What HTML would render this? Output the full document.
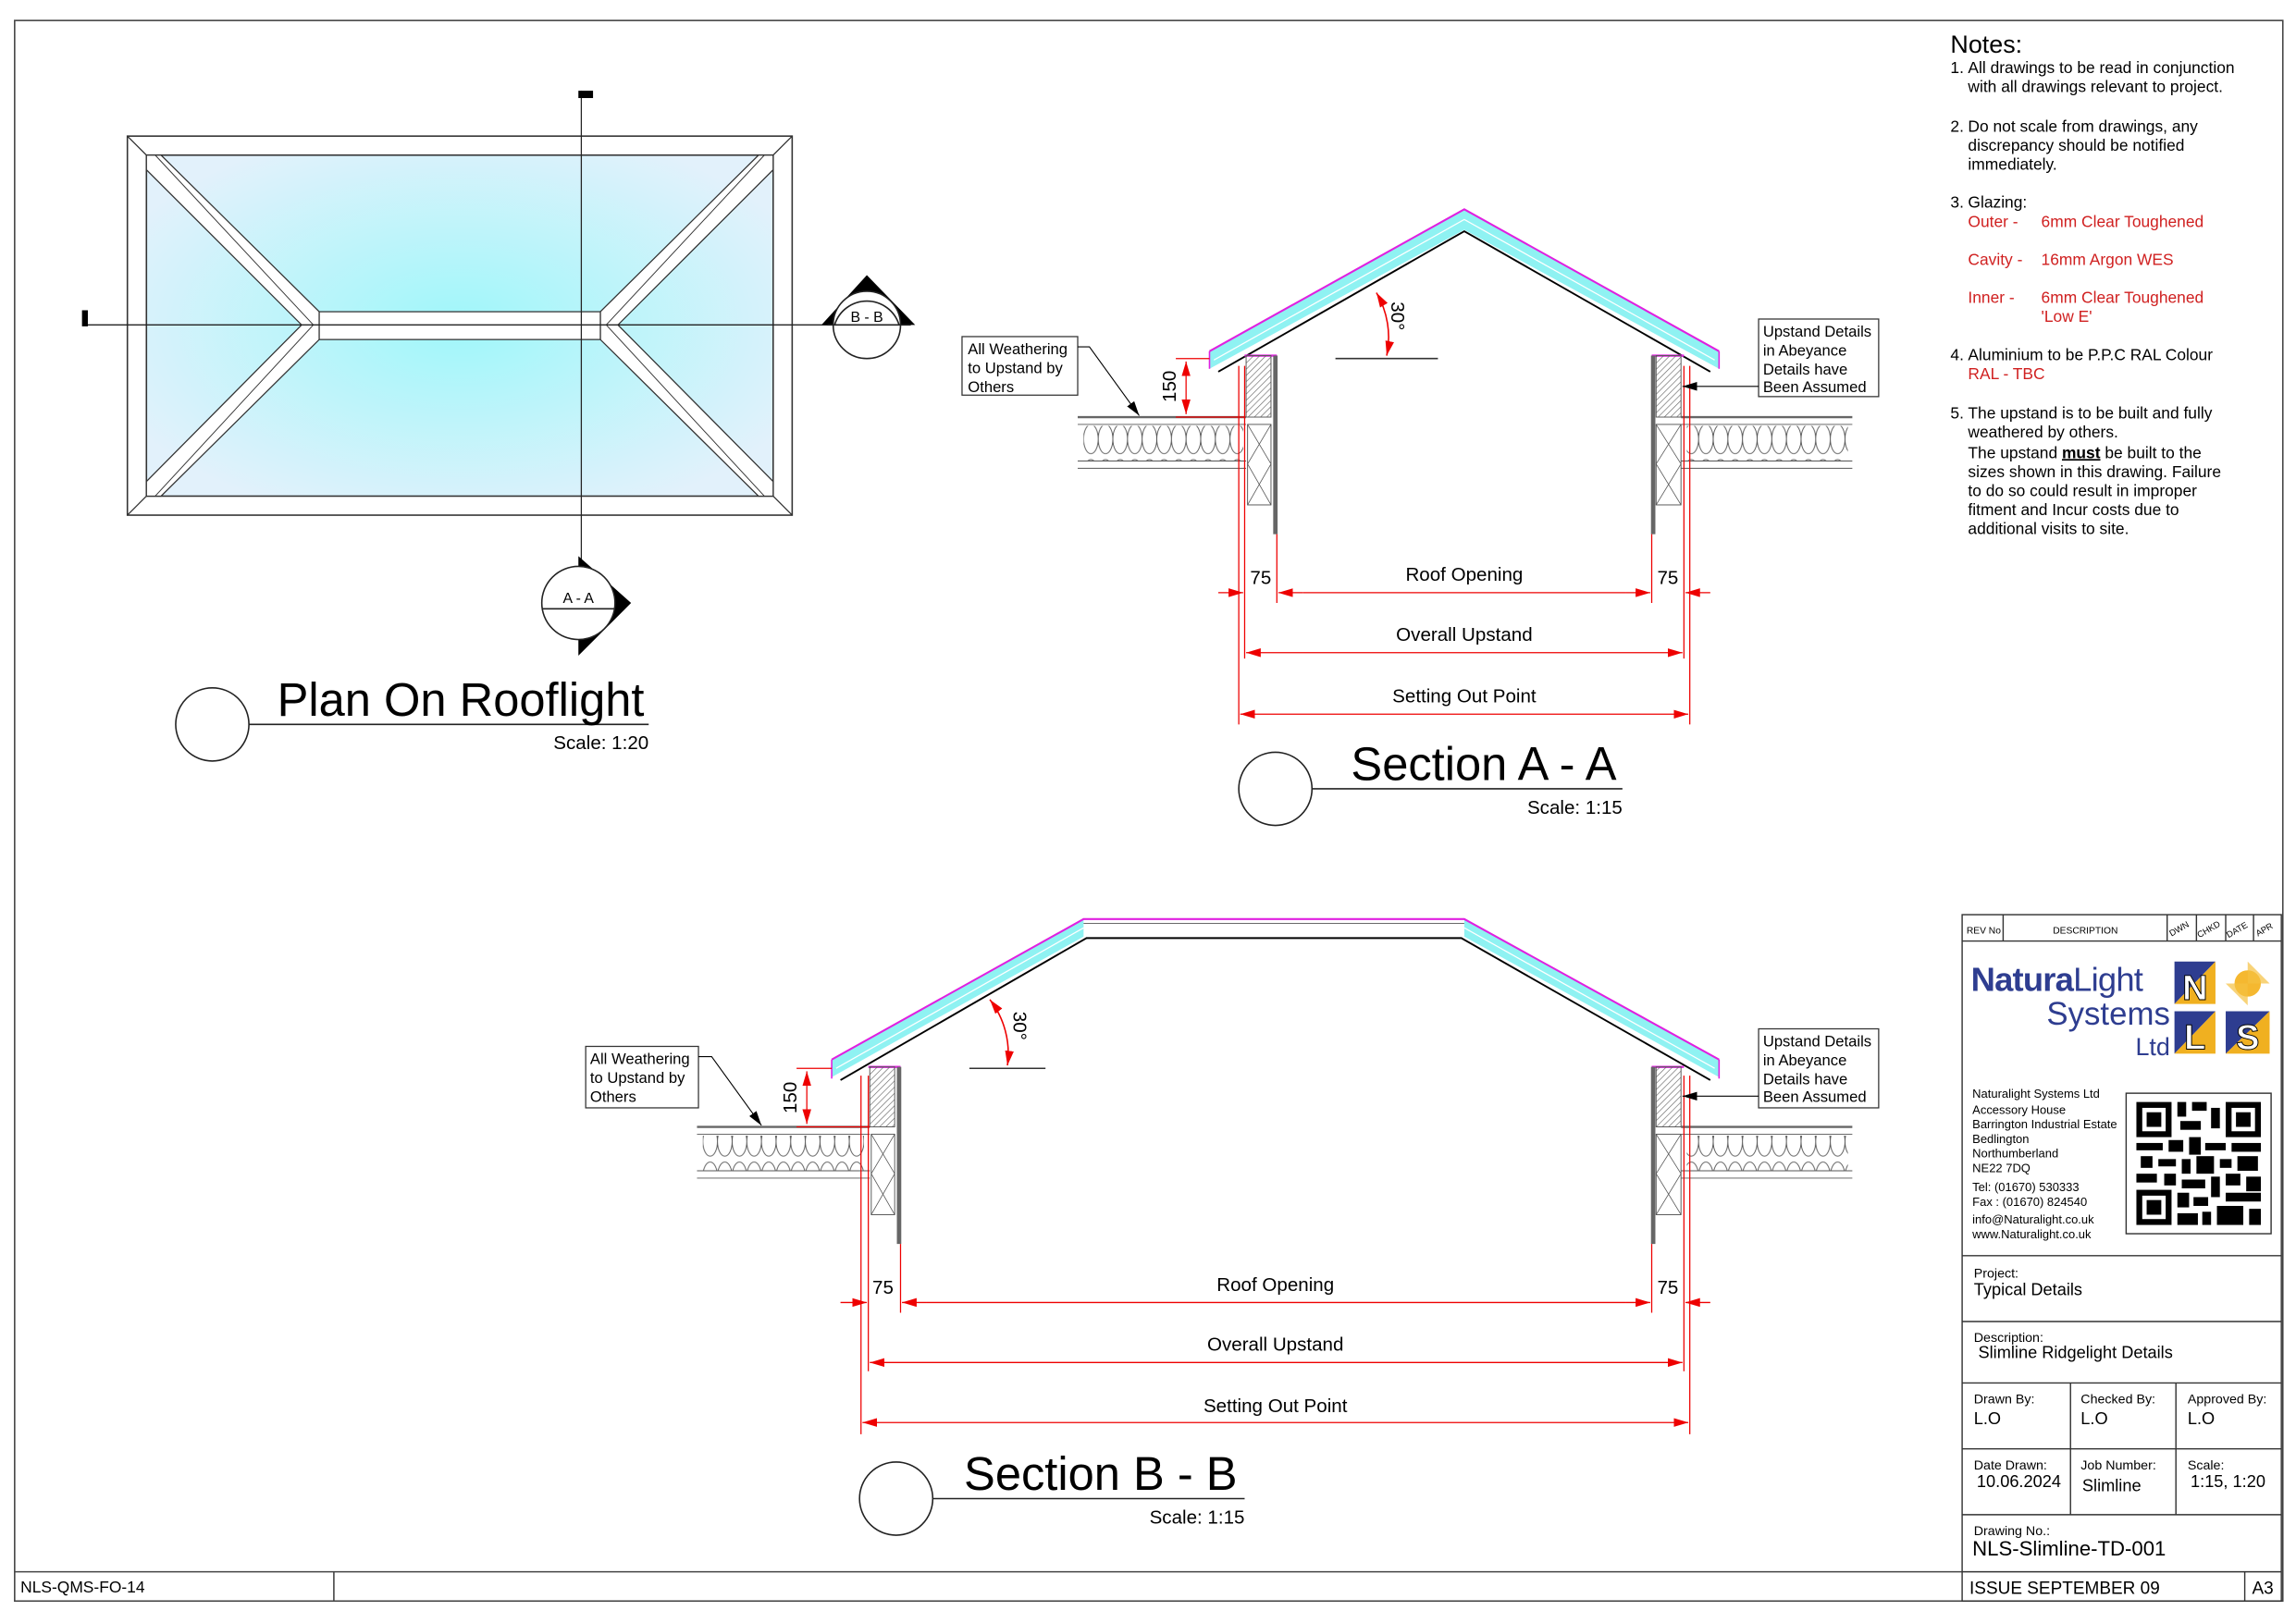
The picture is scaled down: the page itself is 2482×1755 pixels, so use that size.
<!DOCTYPE html>
<html><head><meta charset="utf-8"><style>
html,body{margin:0;padding:0;background:#fff;}
svg{display:block;}
text{font-family:"Liberation Sans",sans-serif;}
</style></head><body>
<svg width="2482" height="1755" viewBox="0 0 1568 1109" preserveAspectRatio="none" xmlns="http://www.w3.org/2000/svg">
<defs>
<radialGradient id="gl" cx="0.5" cy="0.5" r="0.6">
<stop offset="0" stop-color="#9ff7fa"/><stop offset="1" stop-color="#e2f1fb"/></radialGradient>
<pattern id="ins" width="10" height="24" patternUnits="userSpaceOnUse">
<ellipse cx="5" cy="12" rx="5" ry="10" fill="none" stroke="#555" stroke-width="0.6"/></pattern>
<pattern id="hat" width="3" height="3" patternUnits="userSpaceOnUse" patternTransform="rotate(45)">
<line x1="0" y1="0" x2="0" y2="3" stroke="#666" stroke-width="0.8"/></pattern>
<marker id="ar" markerWidth="10" markerHeight="6" refX="10" refY="3" orient="auto-start-reverse" markerUnits="userSpaceOnUse">
<path d="M0,0 L10,3 L0,6z" fill="#e00"/></marker>
<marker id="ab" markerWidth="10" markerHeight="6" refX="10" refY="3" orient="auto" markerUnits="userSpaceOnUse">
<path d="M0,0 L10,3 L0,6z" fill="#000"/></marker>
</defs>

<rect x="10" y="14" width="1549" height="1080" fill="none" stroke="#444" stroke-width="1"/>
<line x1="10" y1="1074" x2="1340" y2="1074" stroke="#444"/>
<line x1="228" y1="1074" x2="228" y2="1094" stroke="#444"/>
<text x="14" y="1088" font-size="11">NLS-QMS-FO-14</text>

<!-- Plan -->
<rect x="87" y="93" width="454" height="259" fill="#fff" stroke="#333"/>
<rect x="100" y="106" width="428" height="233" fill="url(#gl)" stroke="#333"/>
<g stroke="#333" stroke-width="0.8" fill="none">
<line x1="87" y1="93" x2="100" y2="106"/><line x1="541" y1="93" x2="528" y2="106"/>
<line x1="87" y1="352" x2="100" y2="339"/><line x1="541" y1="352" x2="528" y2="339"/>
</g>
<g fill="#fff" stroke="#333" stroke-width="0.8">
<polygon points="100,106 110,106 218,213 218,232 110,339 100,339 100,329 206,222 100,116"/>
<polygon points="528,106 518,106 410,213 410,232 518,339 528,339 528,329 422,222 528,116"/>
<rect x="218" y="213" width="192" height="19"/>
</g>
<g stroke="#333" stroke-width="0.6" fill="none">
<line x1="106" y1="106" x2="214" y2="222"/><line x1="106" y1="339" x2="214" y2="222"/>
<line x1="522" y1="106" x2="414" y2="222"/><line x1="522" y1="339" x2="414" y2="222"/>
</g>
<line x1="57" y1="222" x2="622" y2="222" stroke="#222" stroke-width="0.8"/>
<rect x="56" y="212" width="4" height="11" fill="#000"/>
<line x1="397" y1="62" x2="397" y2="440" stroke="#222" stroke-width="0.8"/>
<rect x="395" y="62" width="10" height="5" fill="#000"/>
<polygon points="592,188 561,222 625,222" fill="#000"/>
<circle cx="592" cy="222" r="23" fill="#fff" stroke="#222"/>
<path d="M570,222 A23,23 0 0 1 614,222" fill="#fff" stroke="#222"/>
<line x1="565" y1="222" x2="622" y2="222" stroke="#222"/>
<text x="592" y="220" font-size="10" text-anchor="middle">B - B</text>
<polygon points="395,380 395,448 431,412" fill="#000"/>
<circle cx="395" cy="412" r="25" fill="#fff" stroke="#222"/>
<line x1="370" y1="416" x2="420" y2="416" stroke="#222"/>
<text x="395" y="412" font-size="10" text-anchor="middle">A - A</text>

<circle cx="145" cy="495" r="25" fill="none" stroke="#222"/>
<line x1="170" y1="495" x2="443" y2="495" stroke="#222"/>
<text x="440" y="489" font-size="32" text-anchor="end">Plan On Rooflight</text>
<text x="443" y="512" font-size="13" text-anchor="end">Scale: 1:20</text>

<!-- Section A -->
<polygon points="826,240 1000,143 1174,240 1174,252 1000,157 826,252" fill="#8ff2f2"/>
<polyline points="826,240 1000,143 1174,240" fill="none" stroke="#e020e0" stroke-width="1.3"/>
<polyline points="832,254 1000,158 1168,254" fill="none" stroke="#000" stroke-width="1.2"/>
<polyline points="829,246 1000,150 1171,246" fill="none" stroke="#fff" stroke-width="0.8"/>
<line x1="826" y1="240" x2="826" y2="252" stroke="#e020e0"/><line x1="1174" y1="240" x2="1174" y2="252" stroke="#e020e0"/>
<line x1="850" y1="243" x2="872" y2="243" stroke="#e020e0" stroke-width="1.5"/>
<line x1="1128" y1="243" x2="1150" y2="243" stroke="#e020e0" stroke-width="1.5"/>
<rect x="851" y="243" width="17" height="42" fill="url(#hat)" stroke="#555" stroke-width="0.6"/>
<rect x="852" y="290" width="16" height="55" fill="none" stroke="#555" stroke-width="0.6"/>
<path d="M852,290 L868,317 M868,290 L852,317 M852,317 L868,345 M868,317 L852,345" stroke="#555" stroke-width="0.5"/>
<line x1="871" y1="243" x2="871" y2="365" stroke="#666" stroke-width="3"/>
<line x1="736" y1="285" x2="851" y2="285" stroke="#666" stroke-width="1.5"/>
<line x1="736" y1="290" x2="851" y2="290" stroke="#555" stroke-width="0.6"/>
<rect x="740" y="291" width="109" height="24" fill="url(#ins)"/>
<line x1="736" y1="315" x2="851" y2="315" stroke="#555" stroke-width="0.6"/>
<line x1="736" y1="320" x2="851" y2="320" stroke="#555" stroke-width="0.6"/>
<rect x="1131" y="243" width="17" height="42" fill="url(#hat)" stroke="#555" stroke-width="0.6"/>
<rect x="1131" y="290" width="17" height="55" fill="none" stroke="#555" stroke-width="0.6"/>
<path d="M1131,290 L1148,317 M1148,290 L1131,317 M1131,317 L1148,345 M1148,317 L1131,345" stroke="#555" stroke-width="0.5"/>
<line x1="1129" y1="243" x2="1129" y2="365" stroke="#666" stroke-width="3"/>
<line x1="1148" y1="285" x2="1265" y2="285" stroke="#666" stroke-width="1.5"/>
<line x1="1148" y1="290" x2="1265" y2="290" stroke="#555" stroke-width="0.6"/>
<rect x="1152" y="291" width="110" height="24" fill="url(#ins)"/>
<line x1="1148" y1="315" x2="1265" y2="315" stroke="#555" stroke-width="0.6"/>
<line x1="1148" y1="320" x2="1265" y2="320" stroke="#555" stroke-width="0.6"/>
<line x1="912" y1="245" x2="982" y2="245" stroke="#333"/>
<path d="M940,200 A60,60 0 0 1 947,243" fill="none" stroke="#e00" marker-start="url(#ar)" marker-end="url(#ar)"/>
<text x="950" y="216" font-size="13" transform="rotate(90 950 216)" text-anchor="middle">30°</text>
<g stroke="#e00" stroke-width="0.8">
<line x1="803" y1="245" x2="826" y2="245"/><line x1="803" y1="285" x2="850" y2="285"/>
<line x1="810" y1="247" x2="810" y2="283" marker-start="url(#ar)" marker-end="url(#ar)"/>
</g>
<text x="803" y="264" font-size="13" transform="rotate(-90 803 264)" text-anchor="middle">150</text>
<g stroke="#e00" stroke-width="0.8" fill="none">
<line x1="846" y1="250" x2="846" y2="495"/><line x1="850" y1="250" x2="850" y2="450"/><line x1="872" y1="365" x2="872" y2="412"/>
<line x1="1128" y1="365" x2="1128" y2="412"/><line x1="1150" y1="250" x2="1150" y2="450"/><line x1="1154" y1="250" x2="1154" y2="495"/>
<line x1="832" y1="405" x2="849" y2="405" marker-end="url(#ar)"/><line x1="890" y1="405" x2="873" y2="405" marker-end="url(#ar)"/>
<line x1="890" y1="405" x2="1110" y2="405"/>
<line x1="1110" y1="405" x2="1127" y2="405" marker-end="url(#ar)"/><line x1="1168" y1="405" x2="1151" y2="405" marker-end="url(#ar)"/>
<line x1="851" y1="446" x2="1149" y2="446" marker-start="url(#ar)" marker-end="url(#ar)"/>
<line x1="847" y1="488" x2="1153" y2="488" marker-start="url(#ar)" marker-end="url(#ar)"/>
</g>
<text x="861" y="399" font-size="13" text-anchor="middle">75</text>
<text x="1139" y="399" font-size="13" text-anchor="middle">75</text>
<text x="1000" y="397" font-size="13" text-anchor="middle">Roof Opening</text>
<text x="1000" y="438" font-size="13" text-anchor="middle">Overall Upstand</text>
<text x="1000" y="480" font-size="13" text-anchor="middle">Setting Out Point</text>
<rect x="657" y="230" width="79" height="40" fill="#fff" stroke="#333" stroke-width="0.8"/>
<text font-size="10.5"><tspan x="661" y="242">All Weathering</tspan><tspan x="661" y="255">to Upstand by</tspan><tspan x="661" y="268">Others</tspan></text>
<polyline points="736,237 744,237 778,284" fill="none" stroke="#000" stroke-width="0.7" marker-end="url(#ab)"/>
<rect x="1201" y="218" width="82" height="53" fill="#fff" stroke="#333" stroke-width="0.8"/>
<text font-size="10.5"><tspan x="1204" y="230">Upstand Details</tspan><tspan x="1204" y="243">in Abeyance</tspan><tspan x="1204" y="256">Details have</tspan><tspan x="1204" y="268">Been Assumed</tspan></text>
<line x1="1201" y1="264" x2="1149" y2="264" stroke="#000" stroke-width="0.7" marker-end="url(#ab)"/>
<circle cx="871" cy="539" r="25" fill="none" stroke="#222"/>
<line x1="896" y1="539" x2="1108" y2="539" stroke="#222"/>
<text x="1104" y="533" font-size="32" text-anchor="end">Section A - A</text>
<text x="1108" y="556" font-size="13" text-anchor="end">Scale: 1:15</text>

<!-- Section B -->
<polygon points="568,724 740,628 740,640 568,736" fill="#8ff2f2"/>
<polygon points="1000,628 1174,724 1174,736 1000,640" fill="#8ff2f2"/>
<polyline points="571,730 740,634" fill="none" stroke="#fff" stroke-width="0.8"/>
<polyline points="1000,634 1171,730" fill="none" stroke="#fff" stroke-width="0.8"/>
<polyline points="568,724 740,628 1000,628 1174,724" fill="none" stroke="#e020e0" stroke-width="1.3"/>
<line x1="740" y1="631" x2="1000" y2="631" stroke="#555" stroke-width="0.6"/>
<polyline points="574,738 742,641 998,641 1168,738" fill="none" stroke="#000" stroke-width="1.2"/>
<line x1="568" y1="724" x2="568" y2="737" stroke="#e020e0"/><line x1="1174" y1="724" x2="1174" y2="737" stroke="#e020e0"/>
<line x1="593" y1="729" x2="615" y2="729" stroke="#e020e0" stroke-width="1.5"/>
<line x1="1128" y1="729" x2="1150" y2="729" stroke="#e020e0" stroke-width="1.5"/>
<rect x="594" y="729" width="17" height="41" fill="url(#hat)" stroke="#555" stroke-width="0.6"/>
<rect x="595" y="775" width="16" height="55" fill="none" stroke="#555" stroke-width="0.6"/>
<path d="M595,775 L611,802 M611,775 L595,802 M595,802 L611,830 M611,802 L595,830" stroke="#555" stroke-width="0.5"/>
<line x1="614" y1="729" x2="614" y2="850" stroke="#666" stroke-width="3"/>
<line x1="476" y1="770" x2="594" y2="770" stroke="#666" stroke-width="1.5"/>
<line x1="476" y1="775" x2="594" y2="775" stroke="#555" stroke-width="0.6"/>
<rect x="480" y="776" width="110" height="24" fill="url(#ins)"/>
<line x1="476" y1="800" x2="594" y2="800" stroke="#555" stroke-width="0.6"/>
<line x1="476" y1="805" x2="594" y2="805" stroke="#555" stroke-width="0.6"/>
<rect x="1131" y="729" width="17" height="41" fill="url(#hat)" stroke="#555" stroke-width="0.6"/>
<rect x="1131" y="775" width="17" height="55" fill="none" stroke="#555" stroke-width="0.6"/>
<path d="M1131,775 L1148,802 M1148,775 L1131,802 M1131,802 L1148,830 M1148,802 L1131,830" stroke="#555" stroke-width="0.5"/>
<line x1="1129" y1="729" x2="1129" y2="850" stroke="#666" stroke-width="3"/>
<line x1="1148" y1="770" x2="1265" y2="770" stroke="#666" stroke-width="1.5"/>
<line x1="1148" y1="775" x2="1265" y2="775" stroke="#555" stroke-width="0.6"/>
<rect x="1152" y="776" width="110" height="24" fill="url(#ins)"/>
<line x1="1148" y1="800" x2="1265" y2="800" stroke="#555" stroke-width="0.6"/>
<line x1="1148" y1="805" x2="1265" y2="805" stroke="#555" stroke-width="0.6"/>
<line x1="662" y1="730" x2="714" y2="730" stroke="#333"/>
<path d="M676,683 A60,60 0 0 1 688,728" fill="none" stroke="#e00" marker-start="url(#ar)" marker-end="url(#ar)"/>
<text x="692" y="701" font-size="13" transform="rotate(90 692 701)" text-anchor="middle">30°</text>
<g stroke="#e00" stroke-width="0.8">
<line x1="544" y1="730" x2="568" y2="730"/><line x1="544" y1="770" x2="594" y2="770"/>
<line x1="551" y1="732" x2="551" y2="768" marker-start="url(#ar)" marker-end="url(#ar)"/>
</g>
<text x="544" y="750" font-size="13" transform="rotate(-90 544 750)" text-anchor="middle">150</text>
<g stroke="#e00" stroke-width="0.8" fill="none">
<line x1="588" y1="735" x2="588" y2="980"/><line x1="593" y1="735" x2="593" y2="937"/><line x1="615" y1="850" x2="615" y2="897"/>
<line x1="1128" y1="850" x2="1128" y2="897"/><line x1="1150" y1="735" x2="1150" y2="937"/><line x1="1154" y1="735" x2="1154" y2="980"/>
<line x1="574" y1="890" x2="592" y2="890" marker-end="url(#ar)"/><line x1="633" y1="890" x2="616" y2="890" marker-end="url(#ar)"/>
<line x1="633" y1="890" x2="1110" y2="890"/>
<line x1="1110" y1="890" x2="1127" y2="890" marker-end="url(#ar)"/><line x1="1168" y1="890" x2="1151" y2="890" marker-end="url(#ar)"/>
<line x1="594" y1="931" x2="1149" y2="931" marker-start="url(#ar)" marker-end="url(#ar)"/>
<line x1="589" y1="972" x2="1153" y2="972" marker-start="url(#ar)" marker-end="url(#ar)"/>
</g>
<text x="603" y="884" font-size="13" text-anchor="middle">75</text>
<text x="1139" y="884" font-size="13" text-anchor="middle">75</text>
<text x="871" y="882" font-size="13" text-anchor="middle">Roof Opening</text>
<text x="871" y="923" font-size="13" text-anchor="middle">Overall Upstand</text>
<text x="871" y="965" font-size="13" text-anchor="middle">Setting Out Point</text>
<rect x="400" y="715" width="77" height="42" fill="#fff" stroke="#333" stroke-width="0.8"/>
<text font-size="10.5"><tspan x="403" y="727">All Weathering</tspan><tspan x="403" y="740">to Upstand by</tspan><tspan x="403" y="753">Others</tspan></text>
<polyline points="477,722 486,722 520,769" fill="none" stroke="#000" stroke-width="0.7" marker-end="url(#ab)"/>
<rect x="1201" y="703" width="82" height="54" fill="#fff" stroke="#333" stroke-width="0.8"/>
<text font-size="10.5"><tspan x="1204" y="715">Upstand Details</tspan><tspan x="1204" y="728">in Abeyance</tspan><tspan x="1204" y="741">Details have</tspan><tspan x="1204" y="753">Been Assumed</tspan></text>
<line x1="1201" y1="749" x2="1149" y2="749" stroke="#000" stroke-width="0.7" marker-end="url(#ab)"/>
<circle cx="612" cy="1024" r="25" fill="none" stroke="#222"/>
<line x1="637" y1="1024" x2="850" y2="1024" stroke="#222"/>
<text x="845" y="1018" font-size="32" text-anchor="end">Section B - B</text>
<text x="850" y="1041" font-size="13" text-anchor="end">Scale: 1:15</text>

<!-- Notes -->
<g font-size="11">
<text x="1332" y="36" font-size="17">Notes:</text>
<text x="1332" y="50">1.</text><text x="1344" y="50">All drawings to be read in conjunction</text>
<text x="1344" y="63">with all drawings relevant to project.</text>
<text x="1332" y="90">2.</text><text x="1344" y="90">Do not scale from drawings, any</text>
<text x="1344" y="103">discrepancy should be notified</text><text x="1344" y="116">immediately.</text>
<text x="1332" y="142">3.</text><text x="1344" y="142">Glazing:</text>
<g fill="#d02020"><text x="1344" y="155">Outer -</text><text x="1394" y="155">6mm Clear Toughened</text>
<text x="1344" y="181">Cavity -</text><text x="1394" y="181">16mm Argon WES</text>
<text x="1344" y="207">Inner -</text><text x="1394" y="207">6mm Clear Toughened</text><text x="1394" y="220">'Low E'</text>
<text x="1344" y="259">RAL - TBC</text></g>
<text x="1332" y="246">4.</text><text x="1344" y="246">Aluminium to be P.P.C RAL Colour</text>
<text x="1332" y="286">5.</text><text x="1344" y="286">The upstand is to be built and fully</text>
<text x="1344" y="299">weathered by others.</text>
<text x="1344" y="313">The upstand <tspan font-weight="bold" text-decoration="underline">must</tspan> be built to the</text>
<text x="1344" y="326">sizes shown in this drawing. Failure</text>
<text x="1344" y="339">to do so could result in improper</text>
<text x="1344" y="352">fitment and Incur costs due to</text>
<text x="1344" y="365">additional visits to site.</text>
</g>

<!-- title block -->
<g stroke="#333" stroke-width="0.9" fill="none">
<rect x="1340" y="625" width="218" height="469"/>
<line x1="1340" y1="643" x2="1558" y2="643"/>
<line x1="1368" y1="625" x2="1368" y2="643"/><line x1="1480" y1="625" x2="1480" y2="643"/>
<line x1="1500" y1="625" x2="1500" y2="643"/><line x1="1520" y1="625" x2="1520" y2="643"/><line x1="1539" y1="625" x2="1539" y2="643"/>
<line x1="1340" y1="858" x2="1558" y2="858"/><line x1="1340" y1="903" x2="1558" y2="903"/>
<line x1="1340" y1="945" x2="1558" y2="945"/><line x1="1340" y1="990" x2="1558" y2="990"/>
<line x1="1340" y1="1035" x2="1558" y2="1035"/><line x1="1340" y1="1074" x2="1558" y2="1074"/>
<line x1="1414" y1="945" x2="1414" y2="1035"/><line x1="1486" y1="945" x2="1486" y2="1035"/>
<line x1="1533" y1="1074" x2="1533" y2="1094"/>
<rect x="1452" y="747" width="99" height="96"/>
</g>
<text x="1343" y="638" font-size="6.5">REV No</text>
<text x="1402" y="638" font-size="6.5">DESCRIPTION</text>
<g font-size="6">
<text x="1483" y="640" transform="rotate(-30 1483 640)">DWN</text>
<text x="1502" y="641" transform="rotate(-30 1502 641)">CHKD</text>
<text x="1522" y="641" transform="rotate(-30 1522 641)">DATE</text>
<text x="1542" y="640" transform="rotate(-30 1542 640)">APR</text>
</g>
<text x="1346" y="677" font-size="23" font-weight="bold" fill="#2e3d90" letter-spacing="-0.5">Natura<tspan font-weight="normal">Light</tspan></text>
<text x="1482" y="700" font-size="22" fill="#2e3d90" text-anchor="end">Systems</text>
<text x="1482" y="721" font-size="17" fill="#2e3d90" text-anchor="end">Ltd</text>
<polygon points="1485,657 1513,657 1485,686" fill="#2e3d90"/><polygon points="1513,657 1513,686 1485,686" fill="#f0b020"/>
<text x="1499" y="683" font-size="24" font-weight="bold" fill="#fff" stroke="#000" stroke-width="0.6" text-anchor="middle">N</text>
<circle cx="1535" cy="672" r="9" fill="#f5b830"/>
<polygon points="1520,672 1550,672 1535,657 1535,687" fill="#f5c040" opacity="0.7"/>
<polygon points="1485,691 1513,691 1485,720" fill="#2e3d90"/><polygon points="1513,691 1513,720 1485,720" fill="#f0b020"/>
<text x="1499" y="717" font-size="24" font-weight="bold" fill="#fff" stroke="#000" stroke-width="0.6" text-anchor="middle">L</text>
<polygon points="1520,691 1550,691 1520,720" fill="#2e3d90"/><polygon points="1550,691 1550,720 1520,720" fill="#f0b020"/>
<text x="1535" y="717" font-size="24" font-weight="bold" fill="#fff" stroke="#000" stroke-width="0.6" text-anchor="middle">S</text>
<g font-size="8.2">
<text x="1347" y="750">Naturalight Systems Ltd</text>
<text x="1347" y="761">Accessory House</text>
<text x="1347" y="771">Barrington Industrial Estate</text>
<text x="1347" y="781">Bedlington</text>
<text x="1347" y="791">Northumberland</text>
<text x="1347" y="801">NE22 7DQ</text>
<text x="1347" y="814">Tel:    (01670) 530333</text>
<text x="1347" y="824">Fax :  (01670) 824540</text>
<text x="1347" y="836">info@Naturalight.co.uk</text>
<text x="1347" y="846">www.Naturalight.co.uk</text>
</g>
<g fill="#000">
<rect x="1459" y="753" width="24" height="24"/><rect x="1463" y="757" width="16" height="16" fill="#fff"/><rect x="1466" y="760" width="10" height="10"/>
<rect x="1520" y="753" width="24" height="24"/><rect x="1524" y="757" width="16" height="16" fill="#fff"/><rect x="1527" y="760" width="10" height="10"/>
<rect x="1459" y="813" width="24" height="24"/><rect x="1463" y="817" width="16" height="16" fill="#fff"/><rect x="1466" y="820" width="10" height="10"/>
<rect x="1487" y="753" width="6" height="10"/><rect x="1497" y="753" width="10" height="6"/><rect x="1510" y="757" width="6" height="14"/>
<rect x="1489" y="766" width="14" height="6"/><rect x="1459" y="781" width="18" height="5"/><rect x="1481" y="779" width="10" height="8"/>
<rect x="1495" y="777" width="8" height="12"/><rect x="1506" y="781" width="14" height="5"/><rect x="1524" y="781" width="20" height="6"/>
<rect x="1462" y="790" width="8" height="8"/><rect x="1474" y="792" width="12" height="5"/><rect x="1490" y="792" width="6" height="10"/>
<rect x="1500" y="790" width="12" height="12"/><rect x="1516" y="792" width="8" height="6"/><rect x="1528" y="790" width="14" height="10"/>
<rect x="1459" y="802" width="14" height="6"/><rect x="1478" y="802" width="8" height="8"/><rect x="1490" y="806" width="16" height="6"/>
<rect x="1510" y="804" width="6" height="14"/><rect x="1520" y="802" width="10" height="8"/><rect x="1534" y="804" width="10" height="10"/>
<rect x="1487" y="815" width="8" height="10"/><rect x="1498" y="818" width="10" height="6"/><rect x="1520" y="815" width="24" height="6"/>
<rect x="1487" y="829" width="14" height="8"/><rect x="1504" y="828" width="6" height="9"/><rect x="1514" y="824" width="18" height="13"/><rect x="1536" y="826" width="8" height="11"/>
</g>
<text x="1348" y="873" font-size="9">Project:</text>
<text x="1348" y="885" font-size="11.5">Typical Details</text>
<text x="1348" y="917" font-size="9">Description:</text>
<text x="1351" y="928" font-size="11.5">Slimline Ridgelight Details</text>
<text x="1348" y="959" font-size="9">Drawn By:</text><text x="1348" y="973" font-size="11.5">L.O</text>
<text x="1421" y="959" font-size="9">Checked By:</text><text x="1421" y="973" font-size="11.5">L.O</text>
<text x="1494" y="959" font-size="9">Approved By:</text><text x="1494" y="973" font-size="11.5">L.O</text>
<text x="1348" y="1004" font-size="9">Date Drawn:</text><text x="1350" y="1016" font-size="11.5">10.06.2024</text>
<text x="1421" y="1004" font-size="9">Job Number:</text><text x="1422" y="1019" font-size="11.5">Slimline</text>
<text x="1494" y="1004" font-size="9">Scale:</text><text x="1496" y="1016" font-size="11.5">1:15, 1:20</text>
<text x="1348" y="1049" font-size="9">Drawing No.:</text>
<text x="1347" y="1063" font-size="14">NLS-Slimline-TD-001</text>
<text x="1345" y="1089" font-size="12">ISSUE SEPTEMBER 09</text>
<text x="1538" y="1089" font-size="12">A3</text>
</svg>
</body></html>
